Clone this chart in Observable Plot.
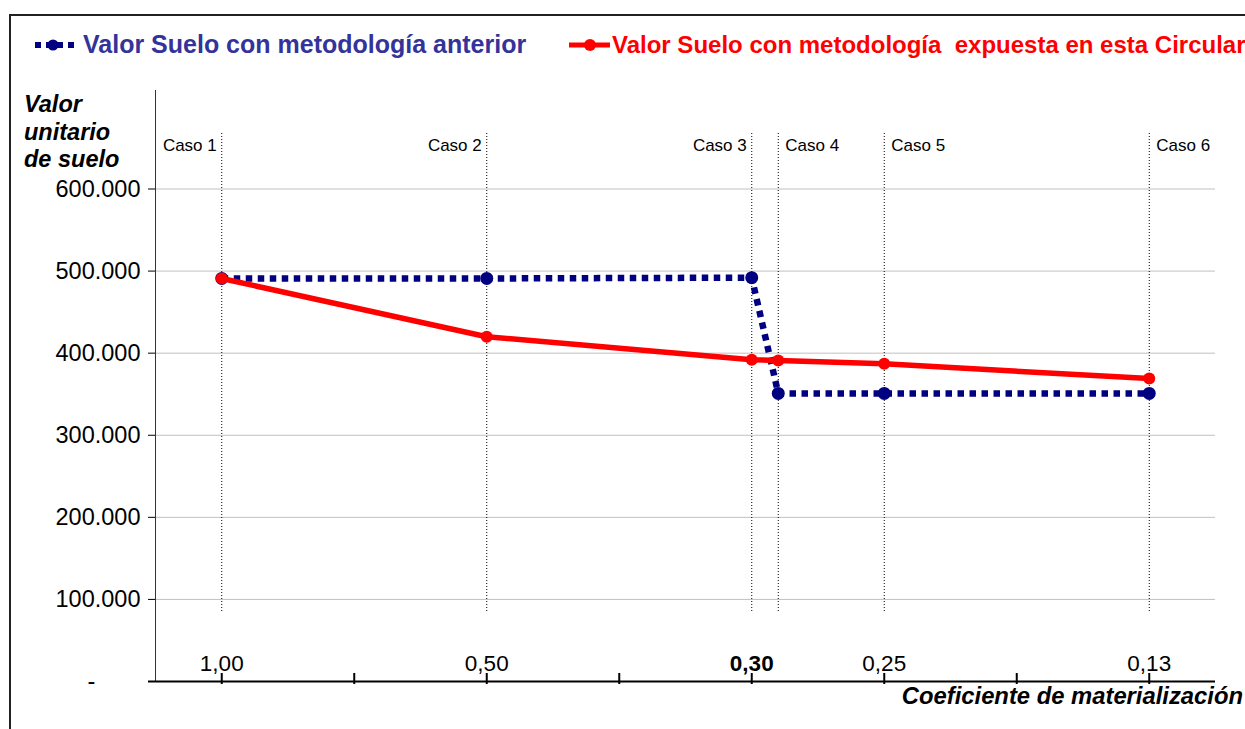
<!DOCTYPE html>
<html><head><meta charset="utf-8">
<script src="https://cdn.jsdelivr.net/npm/d3@7"></script>
<script src="https://cdn.jsdelivr.net/npm/@observablehq/plot@0.6"></script>
<style>
html,body{margin:0;padding:0;background:#fff;overflow:hidden}
#chart svg{display:block}
</style></head><body><div id="chart"></div>
<script>
// ---- data ----
const casos = ["Caso 1", "Caso 2", "Caso 3", "Caso 4", "Caso 5", "Caso 6"];
const casoPos = [0, 2, 4, 4.2, 5, 7];
const valorAnterior = [491000, 491000, 492000, 351000, 351000, 351000];
const valorCircular = [491000, 420000, 392000, 391000, 387000, 369000];
const xTickPos = [0, 1, 2, 3, 4, 5, 6, 7];
const xLabelPos = [0, 2, 4, 5, 7];
const xLabels = ["1,00", "0,50", "0,30", "0,25", "0,13"];
const xLabelBold = [false, false, true, false, false];
const yTicks = [100000, 200000, 300000, 400000, 500000, 600000];
const seriesNames = ["Valor Suelo con metodología anterior", "Valor Suelo con metodología  expuesta en esta Circular"];
const yTitle = ["Valor", "unitario", "de suelo"];
const xTitle = "Coeficiente de materialización";

// ---- build ----
const fmt = d3.formatLocale({decimal: ",", thousands: ".", grouping: [3], currency: ["", ""]}).format(",.0f");
const rows = casos.map((c, i) => ({caso: c, x: casoPos[i], anterior: valorAnterior[i], circular: valorCircular[i]}));
const labels = xLabels.map((t, i) => ({x: xLabelPos[i], text: t, bold: xLabelBold[i]}));
const FONT = '"Liberation Sans", Arial, Helvetica, sans-serif';
const BLUE = "#000080", RED = "#ff0000";

const plot = Plot.plot({
  width: 1245, height: 729,
  marginTop: 90, marginBottom: 48, marginLeft: 155, marginRight: 30,
  style: {fontFamily: FONT, background: "#fff", color: "#000"},
  x: {domain: [-0.5, 7.5], axis: null},
  y: {domain: [0, 720000], axis: null},
  marks: [
    Plot.gridY(yTicks, {stroke: "#c0c0c0", strokeOpacity: 1}),
    Plot.ruleX(rows, {x: "x", insetTop: 43, insetBottom: 69, stroke: "#000", strokeDasharray: "1 2", strokeWidth: 1}),
    Plot.frame({anchor: "left", stroke: "#333"}),
    Plot.axisY(yTicks, {tickSize: 7, tickPadding: 8, fontSize: 23.5, tickFormat: fmt, label: null}),
    Plot.text([0], {y: d => d, frameAnchor: "left", dx: -68, text: () => "-", fontSize: 23.5}),
    Plot.ruleY([0], {stroke: "#000", strokeWidth: 2, insetLeft: -7}),
    Plot.axisX(xTickPos, {anchor: "bottom", tickSize: 11, dy: -8, tickFormat: () => "", strokeWidth: 2, label: null}),
    Plot.text(labels.filter(d => !d.bold), {x: "x", y: () => 0, text: "text", lineAnchor: "bottom", dy: -11, fontSize: 22.5}),
    Plot.text(labels.filter(d => d.bold), {x: "x", y: () => 0, text: "text", lineAnchor: "bottom", dy: -11, fontSize: 22.5, fontWeight: "bold"}),
    Plot.text(rows.slice(0, 3), {x: "x", text: "caso", frameAnchor: "top", lineAnchor: "bottom", dy: 60, dx: -5, textAnchor: "end", fontSize: 17}),
    Plot.text(rows.slice(3), {x: "x", text: "caso", frameAnchor: "top", lineAnchor: "bottom", dy: 60, dx: 7, textAnchor: "start", fontSize: 17}),
    Plot.line(rows, {x: "x", y: "anterior", stroke: BLUE, strokeWidth: 6.5, strokeDasharray: "6.5 5.5", strokeLinecap: "butt", strokeLinejoin: "miter"}),
    Plot.dot(rows, {x: "x", y: "anterior", r: 6.5, fill: BLUE}),
    Plot.line(rows, {x: "x", y: "circular", stroke: RED, strokeWidth: 5.5}),
    Plot.dot(rows, {x: "x", y: "circular", r: 6, fill: RED})
  ]
});
document.getElementById("chart").appendChild(plot);

// ---- decorations: outer border, legend, titles ----
const svg = d3.select(plot);
svg.append("line").attr("x1", 10).attr("y1", 15).attr("x2", 1245).attr("y2", 15).attr("stroke", "#222").attr("stroke-width", 2);
svg.append("line").attr("x1", 10).attr("y1", 14).attr("x2", 10).attr("y2", 729).attr("stroke", "#222").attr("stroke-width", 2);

const lg = svg.append("g").attr("font-family", FONT).attr("font-weight", "bold").attr("text-anchor", "start");
lg.append("line").attr("x1", 35).attr("x2", 77).attr("y1", 45).attr("y2", 45)
  .attr("stroke", BLUE).attr("stroke-width", 6).attr("stroke-dasharray", "6 5").attr("stroke-linecap", "butt");
lg.append("circle").attr("cx", 53).attr("cy", 45).attr("r", 5.5).attr("fill", BLUE);
lg.append("text").attr("x", 83).attr("y", 53).attr("font-size", 25).attr("fill", "#333399").text(seriesNames[0]);
lg.append("line").attr("x1", 569).attr("x2", 610).attr("y1", 45).attr("y2", 45)
  .attr("stroke", RED).attr("stroke-width", 5);
lg.append("circle").attr("cx", 590).attr("cy", 45).attr("r", 6).attr("fill", RED);
lg.append("text").attr("x", 612).attr("y", 53).attr("font-size", 24).attr("fill", RED)
  .style("white-space", "pre").text(seriesNames[1]);

const yt = svg.append("text").attr("font-family", FONT).attr("font-weight", "bold").attr("font-style", "italic")
  .attr("font-size", 23.5).attr("fill", "#000").attr("text-anchor", "start");
yTitle.forEach((t, i) => yt.append("tspan").attr("x", 24).attr("y", 112 + i * 27.5).text(t));

svg.append("text").attr("font-family", FONT).attr("font-weight", "bold").attr("font-style", "italic").attr("font-size", 23.8)
  .attr("text-anchor", "end").attr("x", 1243).attr("y", 704).attr("fill", "#000").text(xTitle);
</script>
</body></html>
